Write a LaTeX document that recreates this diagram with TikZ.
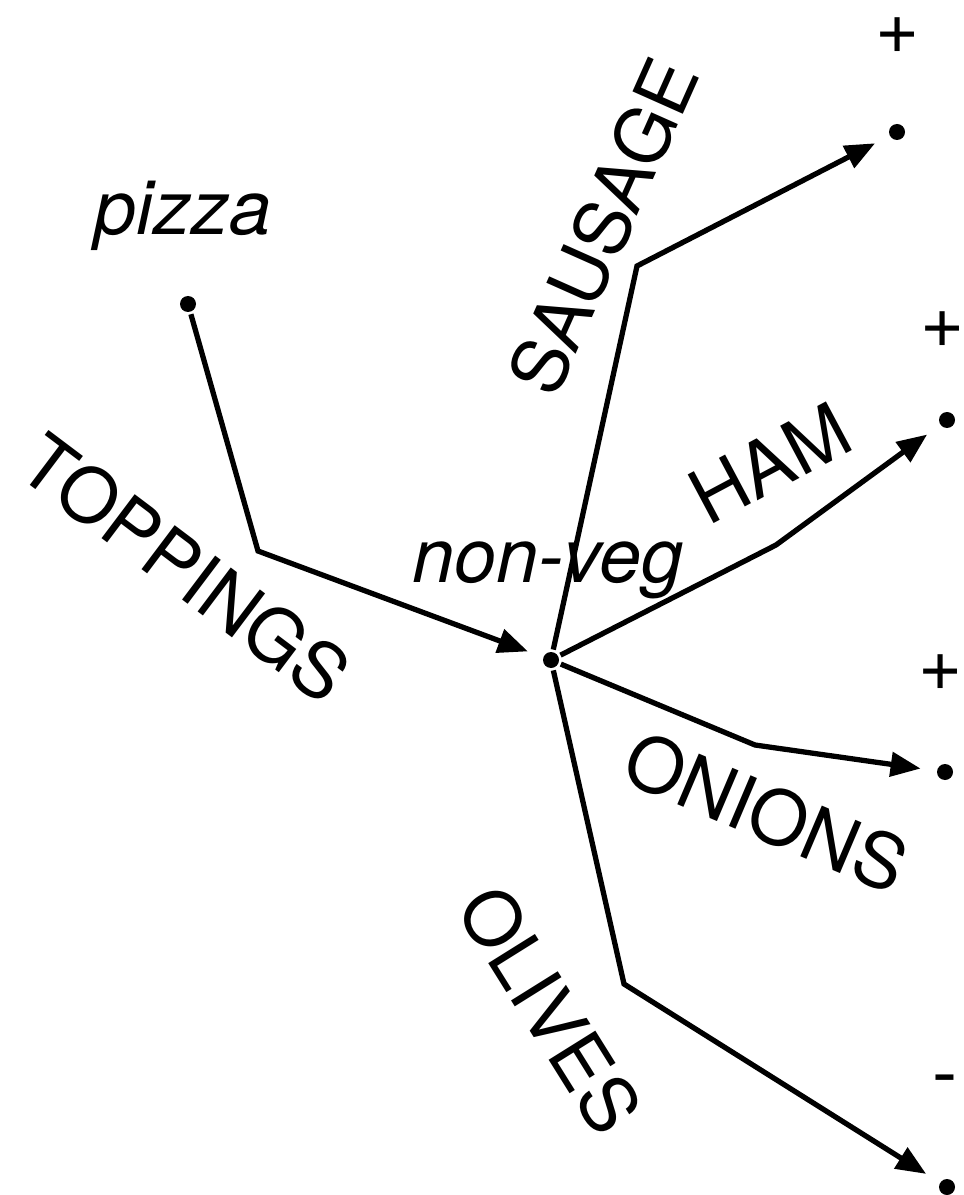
\documentclass[tikz,border=0pt]{standalone}
\usepackage{fontspec}
\setmainfont{TeX Gyre Heros}
\usetikzlibrary{arrows.meta}

\begin{document}
\begin{tikzpicture}[x=0.02cm, y=-0.02cm, line width=3pt,
    dot/.style={circle, fill=black, inner sep=0pt, minimum size=0.32cm},
    word/.style={inner sep=0pt, font=\fontsize{43}{50}\selectfont},
    tip/.style={-{Triangle[length=0.6cm, width=0.48cm]}, shorten >=0.28cm}]

  \useasboundingbox (0,0) rectangle (963,1195);

  % ───────── Points ─────────
  \node[dot] (pizza)   at (188,304)  {};
  \node[dot] (nonveg)  at (551,660)  {};
  \node[dot] (sausage) at (897,132)  {};
  \node[dot] (ham)     at (947,420)  {};
  \node[dot] (onions)  at (945,772)  {};
  \node[dot] (olives)  at (947,1187) {};

  % ───────── Bends ─────────
  \coordinate (bendTop) at (258,551);
  \coordinate (bendSau) at (637,266);
  \coordinate (bendHam) at (776,545);
  \coordinate (bendOni) at (755,745);
  \coordinate (bendOli) at (624,984);

  % ───────── Edges ─────────
  \draw[tip] (pizza)  -- (bendTop) -- (nonveg);
  \draw[tip] (nonveg) -- (bendSau) -- (sausage);
  \draw[tip] (nonveg) -- (bendHam) -- (ham);
  \draw[tip] (nonveg) -- (bendOni) -- (onions);
  \draw[tip] (nonveg) -- (bendOli) -- (olives);

  % ───────── Texts ─────────
  \node[word, anchor=base] (tPizza)  at (183,235) {\itshape pizza};
  \node[word, anchor=base] (tNonveg) at (548,582) {\itshape non-veg};
  \node[word, rotate=-37]  (tTop)    at (186,568) {TOPPINGS};
  \node[word, rotate=66]   (tSau)    at (603,226) {SAUSAGE};
  \node[word, rotate=28]   (tHam)    at (770,463) {HAM};
  \node[word, rotate=-23]  (tOni)    at (766,812) {ONIONS};
  \node[word, rotate=-58]  (tOli)    at (550,1010) {OLIVES};

  % ───────── Signs ─────────
  \node[word] (sSau) at (898,36)   {+};
  \node[word] (sHam) at (943,330)  {+};
  \node[word] (sOni) at (941,673)  {+};
  \node[word] (sOli) at (945,1087) {-};

\end{tikzpicture}
\end{document}
